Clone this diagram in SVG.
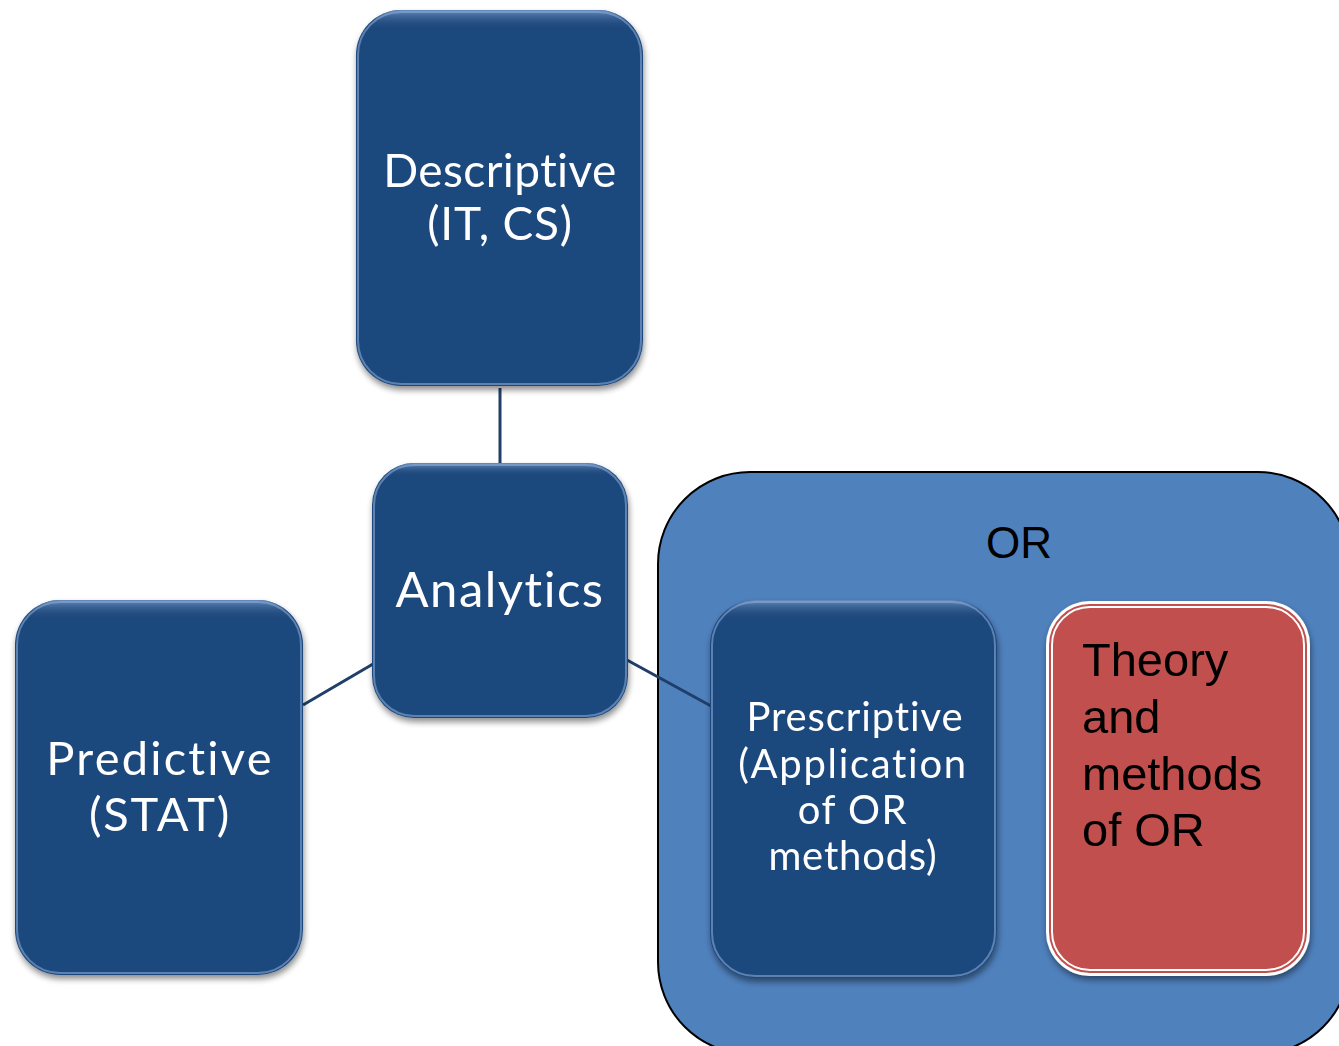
<svg xmlns="http://www.w3.org/2000/svg" width="1339" height="1046" viewBox="0 0 1339 1046">
  <defs>
    <filter id="shadow" x="-10%" y="-10%" width="125%" height="125%">
      <feGaussianBlur in="SourceAlpha" stdDeviation="3"/>
      <feOffset dx="1" dy="4" result="b"/>
      <feComponentTransfer><feFuncA type="linear" slope="0.45"/></feComponentTransfer>
      <feMerge><feMergeNode/><feMergeNode in="SourceGraphic"/></feMerge>
    </filter>
    <linearGradient id="topGlow" x1="0" y1="0" x2="0" y2="1">
      <stop offset="0" stop-color="#6f93c4" stop-opacity="0.9"/>
      <stop offset="0.05" stop-color="#1f497d" stop-opacity="0"/>
      <stop offset="1" stop-color="#1f497d" stop-opacity="0"/>
    </linearGradient>
  </defs>
  <style>
    .box { fill: #1f497d; }
    .bevel { fill: none; stroke: #8fb0dc; stroke-width: 2; stroke-opacity: 0.55; }
    .wlabel { font-family: Lato, "Open Sans", sans-serif; fill: #ffffff; text-anchor: middle; font-variant-ligatures: none; }
    .blabel { font-family: "Liberation Sans", Arial, sans-serif; fill: #000000; }
    .conn { stroke: #1f3f6a; stroke-width: 3; fill: none; }
  </style>

  <!-- OR container, running past the right and bottom edges -->
  <g id="or-group">
    <rect x="658" y="472" width="692" height="582" rx="92" fill="#4f81bd" stroke="#000" stroke-width="2"/>
    <text class="blabel" x="1019" y="558" font-size="44" text-anchor="middle">OR</text>
  </g>

  <!-- connectors -->
  <g id="connectors">
    <line class="conn" x1="500" y1="388" x2="500" y2="464"/>
    <line class="conn" x1="303" y1="705" x2="373" y2="664"/>
    <line class="conn" x1="627" y1="660" x2="711" y2="706"/>
  </g>

  <g id="descriptive" filter="url(#shadow)">
    <rect class="box" x="356" y="10" width="287" height="376" rx="45"/>
    <rect x="356" y="10" width="287" height="376" rx="45" fill="url(#topGlow)"/>
    <rect class="bevel" x="358" y="12" width="283" height="372" rx="43"/>
    <text class="wlabel" x="500" y="187" font-size="46" letter-spacing="0.4">Descriptive</text>
    <text class="wlabel" x="500" y="240" font-size="46" letter-spacing="0.8">(IT, CS)</text>
  </g>

  <g id="analytics" filter="url(#shadow)">
    <rect class="box" x="372" y="463" width="256" height="255" rx="42"/>
    <rect x="372" y="463" width="256" height="255" rx="42" fill="url(#topGlow)"/>
    <rect class="bevel" x="374" y="465" width="252" height="251" rx="40"/>
    <text class="wlabel" x="500" y="607" font-size="49" letter-spacing="1.5">Analytics</text>
  </g>

  <g id="predictive" filter="url(#shadow)">
    <rect class="box" x="15" y="600" width="288" height="375" rx="45"/>
    <rect x="15" y="600" width="288" height="375" rx="45" fill="url(#topGlow)"/>
    <rect class="bevel" x="17" y="602" width="284" height="371" rx="43"/>
    <text class="wlabel" x="160" y="775" font-size="47" letter-spacing="2.2">Predictive</text>
    <text class="wlabel" x="160" y="831" font-size="47" letter-spacing="1.8">(STAT)</text>
  </g>

  <g id="prescriptive" filter="url(#shadow)">
    <rect class="box" x="710" y="600" width="287" height="378" rx="45"/>
    <rect x="710" y="600" width="287" height="378" rx="45" fill="url(#topGlow)"/>
    <rect class="bevel" x="712" y="602" width="283" height="374" rx="43"/>
    <text class="wlabel" x="855" y="731" font-size="40" letter-spacing="0.9">Prescriptive</text>
    <text class="wlabel" x="853" y="778" font-size="40" letter-spacing="1.7">(Application</text>
    <text class="wlabel" x="853" y="824" font-size="40" letter-spacing="1.5">of OR</text>
    <text class="wlabel" x="853" y="870" font-size="40" letter-spacing="0.8">methods)</text>
  </g>

  <g id="theory" filter="url(#shadow)">
    <rect x="1046" y="601" width="264" height="375" rx="44" fill="#ffffff"/>
    <rect x="1049" y="604" width="258" height="369" rx="41" fill="#c0504d"/>
    <rect x="1052" y="607" width="252" height="363" rx="38" fill="none" stroke="#ffffff" stroke-width="2"/>
    <text class="blabel" x="1082" y="676" font-size="47">Theory</text>
    <text class="blabel" x="1082" y="733" font-size="47">and</text>
    <text class="blabel" x="1082" y="790" font-size="47">methods</text>
    <text class="blabel" x="1082" y="846" font-size="47">of OR</text>
  </g>
</svg>
